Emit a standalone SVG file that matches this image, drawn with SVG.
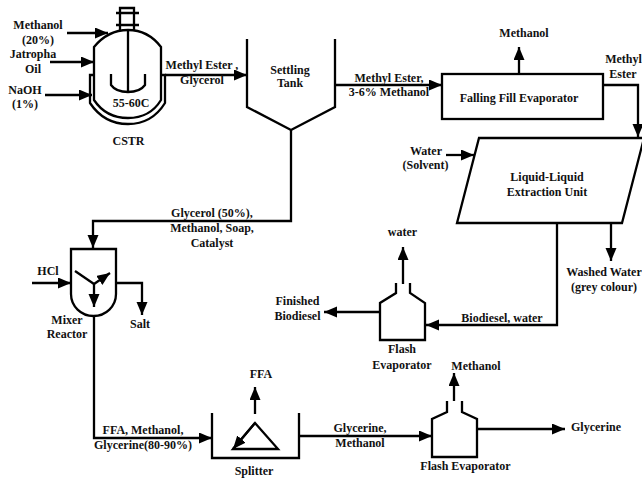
<svg xmlns="http://www.w3.org/2000/svg" width="642" height="479" viewBox="0 0 642 479">
<style>
.l{fill:none;stroke:#000;stroke-width:2.3}
.c{fill:none;stroke:#000;stroke-width:2.3;marker-end:url(#a)}
text{font-family:"Liberation Serif","Times New Roman",serif;font-size:12px;font-weight:bold;fill:#111;text-anchor:middle}
</style>
<defs>
<marker id="a" markerUnits="userSpaceOnUse" markerWidth="14" markerHeight="12" refX="13" refY="5.5" orient="auto"><path d="M0 0L13 5.5L0 11z" fill="#000"/></marker>
</defs>
<rect width="642" height="479" fill="#fff"/>
<g id="cstr">
<path class="l" d="M94 47Q108 30 128 30T161 47V100Q150 118 128 118T94 100Z"/>
<path class="l" d="M94 75H90V103Q104 124 128 124T165 103V75H161"/>
<path class="l" d="M120 30V8H134V30M116 13H139M116 25H139M128 30V92M111 74V85Q116 92 128 92T145 85V74"/>
<text x="131" y="107">55-60C</text><text x="128.500" y="145">CSTR</text>
</g>
<g id="settling-tank">
<path class="l" d="M247 39V107L291 130L335 107V39"/>
<text x="290" y="74">Settling</text><text x="290" y="87">Tank</text>
</g>
<g id="falling-evaporator">
<rect class="l" x="442" y="74" width="161" height="45"/>
<text x="519" y="102">Falling Fill Evaporator</text>
</g>
<g id="extraction-unit">
<path class="l" d="M479 138H644L622 223H457Z"/>
<text x="547" y="181">Liquid-Liquid</text><text x="547" y="196">Extraction Unit</text>
</g>
<g id="mixer-reactor">
<path class="l" d="M71 249H116V294A22.500 22 0 0 1 71 294Z"/>
<path class="l" d="M75 271L94 284"/>
<path class="c" d="M94 284L110 273"/>
<path class="c" d="M94 284V307"/>
<text x="67" y="324">Mixer</text><text x="67" y="338">Reactor</text>
</g>
<g id="splitter">
<path class="l" d="M212 413V458H299V413"/>
<path class="l" d="M255 423L278 449H233Z"/>
<path class="c" d="M255 423L233 449"/>
<text x="254" y="475">Splitter</text>
</g>
<g id="flash-evaporator-1">
<path class="l" d="M396 283V293L380 303V340H425V303L410 293V283"/>
<text x="402" y="353">Flash</text><text x="402" y="369">Evaporator</text>
</g>
<g id="flash-evaporator-2">
<path class="l" d="M447 401V412L432 419V457H477V419L462 412V401"/>
<text x="465.500" y="470">Flash Evaporator</text>
</g>
<g id="connectors">
<path class="c" d="M67 33H108"/>
<path class="c" d="M50 62H94"/>
<path class="c" d="M45 95H92"/>
<path class="c" d="M165 75H247"/>
<path class="c" d="M291 130V221H93V248"/>
<path class="c" d="M335 85H442"/>
<path class="c" d="M519 74V47"/>
<path class="c" d="M603 85H638V137"/>
<path class="c" d="M446 155H474"/>
<path class="c" d="M611 223V261"/>
<path class="c" d="M557 223V325H426"/>
<path class="c" d="M403 284V247"/>
<path class="c" d="M380 312H324"/>
<path class="c" d="M32 283H71"/>
<path class="c" d="M116 283H142V315"/>
<path class="c" d="M94 316V438H212"/>
<path class="c" d="M255 414V387"/>
<path class="c" d="M299 436H432"/>
<path class="c" d="M454 401V373"/>
<path class="c" d="M477 429H565"/>
</g>
<g id="labels">
<text x="38" y="29">Methanol</text><text x="38" y="44">(20%)</text>
<text x="33" y="58">Jatropha</text><text x="33" y="73">Oil</text>
<text x="25" y="94">NaOH</text><text x="25" y="108">(1%)</text>
<text x="202" y="69">Methyl Ester ,</text><text x="202" y="84">Glycerol</text>
<text x="389" y="82">Methyl Ester,</text><text x="389" y="96">3-6% Methanol</text>
<text x="524" y="37">Methanol</text>
<text x="623.500" y="63">Methyl</text><text x="623" y="78">Ester</text>
<text x="426" y="155">Water</text><text x="425.500" y="169">(Solvent)</text>
<text x="212" y="217">Glycerol (50%),</text><text x="212" y="232">Methanol, Soap,</text><text x="212" y="247">Catalyst</text>
<text x="48" y="275">HCl</text>
<text x="140" y="328">Salt</text>
<text x="402.500" y="236">water</text>
<text x="604" y="276">Washed Water</text><text x="604" y="291">(grey colour)</text>
<text x="297.500" y="305">Finished</text><text x="297.500" y="320">Biodiesel</text>
<text x="502" y="322">Biodiesel, water</text>
<text x="476" y="370">Methanol</text>
<text x="261" y="378">FFA</text>
<text x="143" y="434">FFA, Methanol,</text><text x="143" y="449">Glycerine(80-90%)</text>
<text x="360" y="432">Glycerine,</text><text x="360" y="447">Methanol</text>
<text x="596" y="431">Glycerine</text>
</g>
</svg>
